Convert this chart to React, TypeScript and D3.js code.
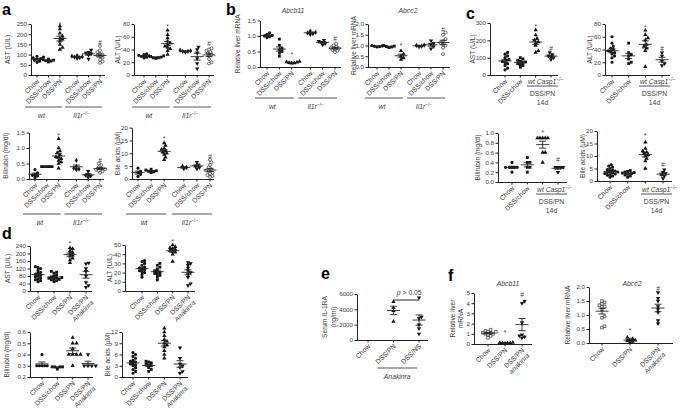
import { useEffect, useRef } from "react"
import * as d3 from "d3"

const FONT = "'Liberation Sans', Arial, sans-serif"
const INK = "#222"
const TXT = "#3a3a3a"

// ---- categories (x labels)
const catsAB = ["Chow", "DSS/chow", "DSS/PN", "Chow", "DSS/chow", "DSS/PN"]
const catsC = ["Chow", "DSS/chow", "", ""]
const catsD = ["Chow", "DSS/chow", "DSS/PN", ["DSS/PN", "Anakinra"]]
const catsE = ["Chow", "DSS/PN", "DSS/NS"]
const catsF1 = ["Chow", "DSS/PN", ["DSS/PN", "anakinra"]]
const catsF2 = ["Chow", "DSS/PN", ["DSS/PN", "Anakinra"]]

// ---- tick values
const tAST_a = [0, 50, 100, 150, 200, 250]
const tALT80 = [0, 20, 40, 60, 80]
const tBili15 = [0, 0.5, 1.0, 1.5]
const tBile20 = [0, 5, 10, 15, 20]
const tRel15 = [0, 0.5, 1.0, 1.5]
const tRel20 = [0, 0.5, 1.0, 1.5, 2.0]
const tAST_c = [0, 100, 200, 300]
const tBili10 = [0, 0.2, 0.4, 0.6, 0.8, 1.0]
const tAST_d = [0, 40, 80, 120, 160, 200, 240]
const tALT50 = [0, 10, 20, 30, 40, 50]
const tBili06 = [0.2, 0.3, 0.4, 0.5, 0.6]
const tBile12 = [0, 3, 6, 9, 12]
const tIL1RA = [0, 2000, 4000, 6000]
const tRel5 = [0, 1, 2, 3, 4, 5]

// ---- panel a: wt Chow, wt DSS/chow, wt DSS/PN, Il1r-/- Chow, DSS/chow, DSS/PN
const aAST = [
  [62, 68, 72, 78, 80, 84, 88, 92],
  [64, 68, 70, 73, 75, 78],
  [125, 135, 150, 165, 175, 180, 190, 205, 225, 240],
  [82, 85, 88, 90, 92, 95],
  [78, 98, 104, 108, 112, 122],
  [60, 66, 75, 85, 92, 96, 100, 105, 112, 120, 142],
]
const aALT = [
  [27, 28, 29, 30, 31, 32, 33],
  [26, 27, 27, 28, 29, 30],
  [32, 38, 41, 43, 45, 48, 50, 53, 58, 63, 70],
  [36, 37, 37, 38, 39],
  [10, 18, 26, 35, 40, 44],
  [18, 20, 25, 30, 32, 34, 36, 38, 40, 42],
]
const aBili = [
  [0.05, 0.1, 0.12, 0.15, 0.2, 0.3],
  [0.4, 0.4, 0.4, 0.4, 0.4],
  [0.35, 0.5, 0.55, 0.6, 0.65, 0.7, 0.72, 0.78, 0.85, 0.9, 1.0, 1.3],
  [0.3, 0.32, 0.35, 0.4, 0.6],
  [0.05, 0.1, 0.12, 0.15, 0.25],
  [0.2, 0.25, 0.28, 0.3, 0.32, 0.35, 0.38, 0.45, 0.5],
]
const aBile = [
  [1, 1.8, 2.5, 3, 4.2],
  [2.5, 2.8, 3, 3.2, 3.5, 3.8],
  [7.5, 8.5, 9.5, 10, 10.5, 11, 11.5, 12, 13, 14],
  [4, 4.5, 5],
  [4, 4.5, 5, 5.5, 6.5],
  [0.8, 1.2, 1.5, 2, 2.5, 3, 3.3, 3.8, 4.5, 5.5, 6.5, 7.5],
]
// ---- panel b
const bAbcb11 = [
  [0.95, 0.98, 1.0, 1.02, 1.05, 1.1],
  [0.35, 0.45, 0.5, 0.55, 0.6, 0.7, 0.9],
  [0.12, 0.13, 0.14, 0.15, 0.16, 0.18],
  [1.05, 1.08, 1.1, 1.12, 1.16],
  [0.72, 0.76, 0.8, 0.83, 0.86],
  [0.48, 0.52, 0.55, 0.58, 0.6, 0.63, 0.66, 0.7, 0.75],
]
const bAbcc2 = [
  [0.93, 0.95, 0.96, 0.98, 1.0],
  [0.9, 0.93, 0.95, 0.97, 1.0],
  [0.35, 0.42, 0.5, 0.6, 0.75],
  [0.95, 0.97, 1.0, 1.02],
  [0.85, 0.95, 1.05, 1.1, 1.22],
  [0.6, 0.9, 1.0, 1.05, 1.12, 1.2, 1.3, 1.5, 1.6],
]
// ---- panel c: Chow, DSS/chow, wt DSS/PN 14d, Casp1-/- DSS/PN 14d
const cAST = [
  [30, 40, 55, 65, 72, 78, 85, 90, 100, 110, 120, 130],
  [45, 55, 60, 65, 70, 75, 80, 85, 92, 100],
  [130, 140, 170, 185, 190, 200, 210, 230, 260],
  [90, 100, 105, 110, 118, 130],
]
const cALT = [
  [20, 27, 30, 33, 35, 37, 38, 40, 42, 45, 50, 60],
  [18, 20, 25, 30, 32, 35, 50],
  [13, 38, 42, 45, 48, 55, 58, 63, 70],
  [15, 18, 22, 30, 35],
]
const cBili = [
  [0.2, 0.3, 0.3, 0.3, 0.3, 0.3, 0.4],
  [0.2, 0.3, 0.3, 0.4, 0.4, 0.5],
  [0.4, 0.6, 0.6, 0.9, 0.9, 0.9, 0.9, 0.9],
  [0.2, 0.3, 0.3, 0.3, 0.3],
]
const cBile = [
  [1.5, 2, 2.3, 2.6, 2.8, 3, 3.2, 3.4, 3.6, 3.8, 4, 4.3, 4.6, 5, 5.5, 6, 6.5],
  [1.5, 2, 2.4, 2.7, 3, 3.2, 3.4, 3.6, 3.8, 4.2],
  [5, 8, 9, 10, 10.5, 11, 11.5, 12, 13, 15.5],
  [1, 2, 2.5, 3, 3.5, 4.5],
]
// ---- panel d
const dAST = [
  [50, 55, 60, 65, 70, 75, 80, 85, 90, 95, 100, 110, 120, 125, 130],
  [50, 55, 60, 62, 65, 68, 70, 72, 75, 80, 85, 95, 100, 105],
  [150, 165, 175, 185, 190, 200, 205, 215, 225, 230],
  [20, 30, 45, 80, 105, 120, 145, 150],
]
const dALT = [
  [15, 18, 20, 21, 22, 23, 24, 25, 26, 28, 30, 32, 33],
  [12, 15, 17, 18, 19, 20, 21, 22, 24, 26, 28, 30],
  [32, 40, 42, 43, 44, 45, 46, 47, 48, 50],
  [6, 8, 15, 18, 20, 22, 25, 28, 30, 31],
]
const dBili = [
  [0.3, 0.3, 0.3, 0.3, 0.3, 0.4],
  [0.27, 0.29, 0.29, 0.29, 0.29],
  [0.3, 0.4, 0.4, 0.4, 0.4, 0.45, 0.5, 0.5, 0.55],
  [0.3, 0.3, 0.3, 0.3, 0.4],
]
const dBile = [
  [1, 1.5, 2, 2.5, 3, 3.2, 3.5, 3.8, 4, 4.2, 4.5, 5, 5.5, 6, 6.5],
  [1.5, 2, 2.5, 3, 3.2, 3.5, 3.8, 4, 4.2],
  [5, 6, 7, 8, 8.5, 9, 9.5, 10, 11, 12, 13],
  [1, 1.5, 2.5, 3, 3.5, 5, 7.8],
]
// ---- panel e
const eIL1RA = [
  [],
  [2400, 3800, 4200, 5000],
  [800, 1500, 2000, 2800, 3000, 5500],
]
// ---- panel f
const fAbcb11 = [
  [0.6, 0.8, 0.9, 1.0, 1.0, 1.1, 1.1, 1.2, 1.2, 1.3, 1.4],
  [0.05, 0.08, 0.1, 0.1, 0.12, 0.15],
  [0.6, 0.7, 0.8, 0.9, 2.1, 4.0, 4.2],
]
const fAbcc2 = [
  [0.55, 0.6, 0.9, 0.95, 1.2, 1.3, 1.3, 1.35, 1.4, 1.45, 1.5],
  [0.02, 0.05, 0.08, 0.1, 0.12, 0.15, 0.2],
  [0.7, 0.8, 1.1, 1.2, 1.3, 1.5, 1.6, 1.8],
]

// ---- significance marks: [group, mark, value]
const sigAAST: [number, string, number][] = [[2, "*", 252], [5, "#", 162]]
const sigAALT: [number, string, number][] = [[2, "*", 77], [5, "#", 50]]
const sigABili: [number, string, number][] = [[2, "*", 1.42], [5, "#", 0.62]]
const sigABile: [number, string, number][] = [[2, "*", 16], [5, "#", 9]]
const sigBAbcb11: [number, string, number][] = [[2, "*", 0.42], [5, "#", 0.92]]
const sigBAbcc2: [number, string, number][] = [[2, "*", 1.02], [5, "#", 1.78]]
const sigCAST: [number, string, number][] = [[2, "*", 285], [3, "#", 155]]
const sigCALT: [number, string, number][] = [[2, "*", 75], [3, "#", 43]]
const sigCBili: [number, string, number][] = [[2, "*", 1.02], [3, "#", 0.47]]
const sigCBile: [number, string, number][] = [[2, "*", 18.5], [3, "#", 6.8]]
const sigDAST: [number, string, number][] = [[2, "*", 255]]
const sigDALT: [number, string, number][] = [[2, "*", 54]]
const sigFAbcb11: [number, string, number][] = [[1, "*", 1.15], [2, "#", 4.9]]
const sigFAbcc2: [number, string, number][] = [[1, "*", 0.45], [2, "#", 1.95]]

const symAB = ["circle", "square", "triangle", "diamond", "down", "open"]
const sym4 = ["circle", "square", "triangle", "down"]
const symE = ["circle", "triangle", "down"]
const symF = ["openSq", "triangle", "down"]

const slots6 = [0, 1, 2, 3.5, 4.5, 5.5]
const slots4 = [0, 1, 2, 3]
const slots3 = [0, 1, 2]

interface Panel {
  vals: number[][]
  cats: (string | string[])[]
  syms: string[]
  sig: [number, string, number][]
  ticks: number[]
  fmt: string
  domain: [number, number]
  ax: number; axEnd: number; yTop: number; yBot: number
  slots: number[]; xs: [number, number]
  ylab: string[]; ylx: number
  title?: [string, number, number]
  under?: { y: number; groups: [number, number, string][] }
  casp?: number
}

const panels: Panel[] = [
  { vals: aAST, cats: catsAB, syms: symAB, sig: sigAAST, ticks: tAST_a, fmt: "d", domain: [0, 250],
    ax: 31, axEnd: 105, yTop: 24, yBot: 75, slots: slots6, xs: [37, 100], ylab: ["AST (U/L)"], ylx: 10,
    under: { y: 107, groups: [[0, 2, "wt"], [3, 5, "il1r"]] } },
  { vals: aALT, cats: catsAB, syms: symAB, sig: sigAALT, ticks: tALT80, fmt: "d", domain: [0, 80],
    ax: 134, axEnd: 214, yTop: 24, yBot: 75, slots: slots6, xs: [144, 209], ylab: ["ALT (U/L)"], ylx: 120,
    under: { y: 107, groups: [[0, 2, "wt"], [3, 5, "il1r"]] } },
  { vals: aBili, cats: catsAB, syms: symAB, sig: sigABili, ticks: tBili15, fmt: ".1f", domain: [0, 1.5],
    ax: 29, axEnd: 104, yTop: 132.5, yBot: 179, slots: slots6, xs: [35, 100], ylab: ["Bilirubin (mg/dl)"], ylx: 8,
    under: { y: 214, groups: [[0, 2, "wt"], [3, 5, "il1r"]] } },
  { vals: aBile, cats: catsAB, syms: symAB, sig: sigABile, ticks: tBile20, fmt: "d", domain: [0, 20],
    ax: 132, axEnd: 214, yTop: 127.6, yBot: 179, slots: slots6, xs: [138, 210], ylab: ["Bile acids (\u00b5M)"], ylx: 120,
    under: { y: 214, groups: [[0, 2, "wt"], [3, 5, "il1r"]] } },
  { vals: bAbcb11, cats: catsAB, syms: symAB, sig: sigBAbcb11, ticks: tRel15, fmt: ".1f", domain: [0, 1.5],
    ax: 260, axEnd: 341, yTop: 20.5, yBot: 67, slots: slots6, xs: [267, 335], ylab: ["Relative liver mRNA"], ylx: 240,
    title: ["Abcb11", 293, 13], under: { y: 98, groups: [[0, 2, "wt"], [3, 5, "il1r"]] } },
  { vals: bAbcc2, cats: catsAB, syms: symAB, sig: sigBAbcc2, ticks: tRel20, fmt: ".1f", domain: [0, 2],
    ax: 368, axEnd: 450, yTop: 24, yBot: 67, slots: slots6, xs: [377, 443], ylab: ["Relative liver mRNA"], ylx: 355.5,
    title: ["Abcc2", 408, 13], under: { y: 98, groups: [[0, 2, "wt"], [3, 5, "il1r"]] } },
  { vals: cAST, cats: catsC, syms: sym4, sig: sigCAST, ticks: tAST_c, fmt: "d", domain: [0, 300],
    ax: 490, axEnd: 558, yTop: 23, yBot: 75, slots: slots4, xs: [505, 551], ylab: ["AST (U/L)"], ylx: 475, casp: 86 },
  { vals: cALT, cats: catsC, syms: sym4, sig: sigCALT, ticks: tALT80, fmt: "d", domain: [0, 80],
    ax: 605, axEnd: 670, yTop: 24, yBot: 75, slots: slots4, xs: [612, 662], ylab: ["ALT (U/L)"], ylx: 591.5, casp: 86 },
  { vals: cBili, cats: catsC, syms: sym4, sig: sigCBili, ticks: tBili10, fmt: ".1f", domain: [0, 1],
    ax: 498, axEnd: 567, yTop: 133, yBot: 182, slots: slots4, xs: [512, 558], ylab: ["Bilirubin (mg/dl)"], ylx: 480, casp: 194 },
  { vals: cBile, cats: catsC, syms: sym4, sig: sigCBile, ticks: tBile20, fmt: "d", domain: [0, 20],
    ax: 597, axEnd: 672, yTop: 131, yBot: 181, slots: slots4, xs: [610, 663], ylab: ["Bile acids (\u00b5M)"], ylx: 584.5, casp: 194 },
  { vals: dAST, cats: catsD, syms: sym4, sig: sigDAST, ticks: tAST_d, fmt: "d", domain: [0, 240],
    ax: 30, axEnd: 92, yTop: 246, yBot: 291, slots: slots4, xs: [38, 86], ylab: ["AST (U/L)"], ylx: 9.5 },
  { vals: dALT, cats: catsD, syms: sym4, sig: sigDALT, ticks: tALT50, fmt: "d", domain: [0, 50],
    ax: 125, axEnd: 195, yTop: 245, yBot: 291, slots: slots4, xs: [142, 188], ylab: ["ALT (U/L)"], ylx: 112 },
  { vals: dBili, cats: catsD, syms: sym4, sig: [], ticks: tBili06, fmt: ".1f", domain: [0.2, 0.6],
    ax: 30, axEnd: 93, yTop: 332, yBot: 377, slots: slots4, xs: [42, 88], ylab: ["Bilirubin (mg/dl)"], ylx: 8.5 },
  { vals: dBile, cats: catsD, syms: sym4, sig: [], ticks: tBile12, fmt: "d", domain: [0, 12],
    ax: 122, axEnd: 188, yTop: 332, yBot: 377, slots: slots4, xs: [133, 180], ylab: ["Bile acids (\u00b5M)"], ylx: 110 },
  { vals: eIL1RA, cats: catsE, syms: symE, sig: [], ticks: tIL1RA, fmt: "d", domain: [0, 6000],
    ax: 357, axEnd: 428, yTop: 294, yBot: 340, slots: slots3, xs: [368, 419], ylab: ["Serum IL-1RA", "(ng/ml)"], ylx: 327 },
  { vals: fAbcb11, cats: catsF1, syms: symF, sig: sigFAbcb11, ticks: tRel5, fmt: "d", domain: [0, 5],
    ax: 474, axEnd: 532, yTop: 293, yBot: 344, slots: slots3, xs: [488, 522], ylab: ["Relative liver", "mRNA"], ylx: 454.5,
    title: ["Abcb11", 508, 286] },
  { vals: fAbcc2, cats: catsF2, syms: symF, sig: sigFAbcc2, ticks: tRel20, fmt: ".1f", domain: [0, 2],
    ax: 589, axEnd: 673, yTop: 287, yBot: 343, slots: slots3, xs: [602, 658], ylab: ["Relative liver mRNA"], ylx: 569.5,
    title: ["Abcc2", 632, 286] },
]

const letters: [string, number, number][] = [
  ["a", 2, 15], ["b", 226, 15], ["c", 466, 19], ["d", 2, 239], ["e", 321, 279], ["f", 448, 281],
]

type Sel = d3.Selection<SVGGElement, unknown, null, undefined>

// simple deterministic beeswarm so overlapping dots sit side by side
function swarm(vals: number[], y: (v: number) => number, cx: number, d: number) {
  const order = d3.range(vals.length).sort((a, b) => vals[a] - vals[b])
  const out: [number, number][] = new Array(vals.length)
  const placed: [number, number][] = []
  for (const i of order) {
    const py = y(vals[i])
    let px = cx
    for (let k = 0; k < 40; k++) {
      px = cx + Math.ceil(k / 2) * d * 0.5 * (k % 2 ? 1 : -1)
      if (placed.every(([qx, qy]) => Math.hypot(qx - px, qy - py) >= d)) break
    }
    placed.push([px, py])
    out[i] = [px, py]
  }
  return out
}

function drawSym(g: Sel, kind: string, x: number, y: number) {
  const types: Record<string, d3.SymbolType> = {
    circle: d3.symbolCircle, open: d3.symbolCircle, square: d3.symbolSquare, openSq: d3.symbolSquare,
    triangle: d3.symbolTriangle, down: d3.symbolTriangle, diamond: d3.symbolDiamond,
  }
  const open = kind === "open" || kind === "openSq"
  g.append("path")
    .attr("d", d3.symbol(types[kind], open ? 7 : 8)())
    .attr("transform", `translate(${x},${y})${kind === "down" ? " rotate(180)" : ""}`)
    .attr("fill", open ? "#fff" : "#111")
    .attr("stroke", open ? "#111" : "none")
    .attr("stroke-width", 0.6)
}

function geno(t: d3.Selection<SVGTextElement, unknown, null, undefined>, kind: string) {
  if (kind === "wt") {
    t.append("tspan").attr("font-style", "italic").text("wt")
    return
  }
  t.append("tspan").attr("font-style", "italic").text(kind === "il1r" ? "Il1r" : "Casp1")
  t.append("tspan").attr("dy", -3).attr("font-size", 4.8).text("\u2212/\u2212")
}

function drawPanel(root: Sel, p: Panel) {
  const g = root.append("g")
  const y = d3.scaleLinear().domain(p.domain).range([p.yBot, p.yTop])
  const x = d3.scaleLinear().domain([p.slots[0], p.slots[p.slots.length - 1]]).range(p.xs)
  const pos = p.slots.map((s) => x(s))

  const ya = g.append("g").attr("transform", `translate(${p.ax},0)`)
    .call(d3.axisLeft(y).tickValues(p.ticks).tickFormat(d3.format(p.fmt) as any).tickSize(2.5).tickSizeOuter(0).tickPadding(1.5))
  ya.attr("font-size", 6.2).attr("font-family", FONT)
  ya.selectAll("path,line").attr("stroke", INK)
  ya.selectAll("text").attr("fill", TXT)

  g.append("line").attr("x1", p.ax).attr("x2", p.axEnd).attr("y1", p.yBot + 0.5).attr("y2", p.yBot + 0.5).attr("stroke", INK)
  pos.forEach((px) => g.append("line").attr("x1", px).attr("x2", px).attr("y1", p.yBot).attr("y2", p.yBot + 2.5).attr("stroke", INK))

  p.vals.forEach((vals, i) => {
    if (!vals.length) return
    const cx = pos[i]
    swarm(vals, y, cx, 2.6).forEach(([px, py]) => drawSym(g, p.syms[i], px, py))
    const m = d3.mean(vals)!
    const sem = (d3.deviation(vals) ?? 0) / Math.sqrt(vals.length)
    const ln = (x1: number, x2: number, y1: number, y2: number) =>
      g.append("line").attr("x1", x1).attr("x2", x2).attr("y1", y1).attr("y2", y2).attr("stroke", INK).attr("stroke-width", 0.9)
    ln(cx - 6.5, cx + 6.5, y(m), y(m))
    ln(cx, cx, y(m - sem), y(m + sem))
    ln(cx - 3.5, cx + 3.5, y(m - sem), y(m - sem))
    ln(cx - 3.5, cx + 3.5, y(m + sem), y(m + sem))
  })

  p.sig.forEach(([i, mark, v]) => {
    g.append("text").attr("x", pos[i]).attr("y", y(v) + 3).attr("text-anchor", "middle")
      .attr("font-size", 6.5).attr("font-family", FONT).attr("fill", TXT).text(mark)
  })

  p.cats.forEach((c, i) => {
    const lines = Array.isArray(c) ? c : c ? [c] : []
    if (!lines.length) return
    const t = g.append("text").attr("transform", `translate(${pos[i] + 1},${p.yBot + 5}) rotate(-45)`)
      .attr("text-anchor", "end").attr("font-size", 6.8).attr("font-family", FONT).attr("fill", TXT)
    lines.forEach((l, k) => t.append("tspan").attr("x", 0).attr("dy", k === 0 ? "0.35em" : "1.1em")
      .attr("font-style", k > 0 ? "italic" : null).text(l))
  })

  const yl = g.append("text").attr("transform", `translate(${p.ylx},${(p.yTop + p.yBot) / 2}) rotate(-90)`)
    .attr("text-anchor", "middle").attr("font-size", 6.6).attr("font-family", FONT).attr("fill", TXT)
  p.ylab.forEach((l, k) => yl.append("tspan").attr("x", 0).attr("y", k * 8.5).text(l))

  if (p.title) {
    g.append("text").attr("x", p.title[1]).attr("y", p.title[2]).attr("text-anchor", "middle")
      .attr("font-size", 6.8).attr("font-style", "italic").attr("font-family", FONT).attr("fill", TXT).text(p.title[0])
  }

  if (p.under) {
    const u = p.under
    u.groups.forEach(([i0, i1, kind]) => {
      const x1 = pos[i0] - 12, x2 = pos[i1] + 2
      g.append("line").attr("x1", x1).attr("x2", x2).attr("y1", u.y).attr("y2", u.y).attr("stroke", "#555").attr("stroke-width", 1)
      const t = g.append("text").attr("x", (x1 + x2) / 2 - 2).attr("y", u.y + 11).attr("text-anchor", "middle")
        .attr("font-size", 6.8).attr("font-family", FONT).attr("fill", TXT)
      geno(t, kind)
    })
  }

  if (p.casp) {
    const U = p.casp
    const x1 = p.axEnd - 31, x2 = p.axEnd
    const t = g.append("text").attr("x", x1 + 1).attr("y", U - 2)
      .attr("font-size", 6.8).attr("font-family", FONT).attr("fill", TXT)
    geno(t, "wt")
    t.append("tspan").text(" ")
    geno(t, "casp")
    g.append("line").attr("x1", x1).attr("x2", x2).attr("y1", U).attr("y2", U).attr("stroke", "#555")
    g.append("text").attr("x", (x1 + x2) / 2).attr("y", U + 10).attr("text-anchor", "middle")
      .attr("font-size", 6.8).attr("font-family", FONT).attr("fill", TXT).text("DSS/PN")
    g.append("text").attr("x", (x1 + x2) / 2).attr("y", U + 18.5).attr("text-anchor", "middle")
      .attr("font-size", 6.8).attr("font-family", FONT).attr("fill", TXT).text("14d")
  }
  return { pos, y }
}

export default function App() {
  const ref = useRef<SVGSVGElement>(null)

  useEffect(() => {
    if (!ref.current) return
    const svg = d3.select(ref.current)
    svg.selectAll("*").remove()
    const root = svg.append("g") as unknown as Sel

    const drawn = panels.map((p) => drawPanel(root, p))

    // panel e extras: p-value bracket and Anakinra underline
    const e = drawn[14]
    root.append("line").attr("x1", e.pos[1]).attr("x2", e.pos[2]).attr("y1", 300).attr("y2", 300).attr("stroke", INK)
    const pt = root.append("text").attr("x", (e.pos[1] + e.pos[2]) / 2 + 3).attr("y", 295).attr("text-anchor", "middle")
      .attr("font-size", 6.8).attr("font-family", FONT).attr("fill", TXT)
    pt.append("tspan").attr("font-style", "italic").text("p")
    pt.append("tspan").text(" > 0.05")
    root.append("line").attr("x1", e.pos[1] - 16).attr("x2", e.pos[2] - 2).attr("y1", 368).attr("y2", 368).attr("stroke", "#555")
    root.append("text").attr("x", (e.pos[1] + e.pos[2]) / 2 - 9).attr("y", 379).attr("text-anchor", "middle")
      .attr("font-size", 6.8).attr("font-style", "italic").attr("font-family", FONT).attr("fill", TXT).text("Anakinra")

    letters.forEach(([l, lx, ly]) => {
      root.append("text").attr("x", lx).attr("y", ly).attr("font-size", 16).attr("font-weight", "bold")
        .attr("font-family", FONT).attr("fill", "#000").text(l)
    })
  }, [])

  return (
    <svg ref={ref} width={685} height={410}
      style={{ position: "absolute", left: 0, top: 0, background: "#fff" }} />
  )
}
